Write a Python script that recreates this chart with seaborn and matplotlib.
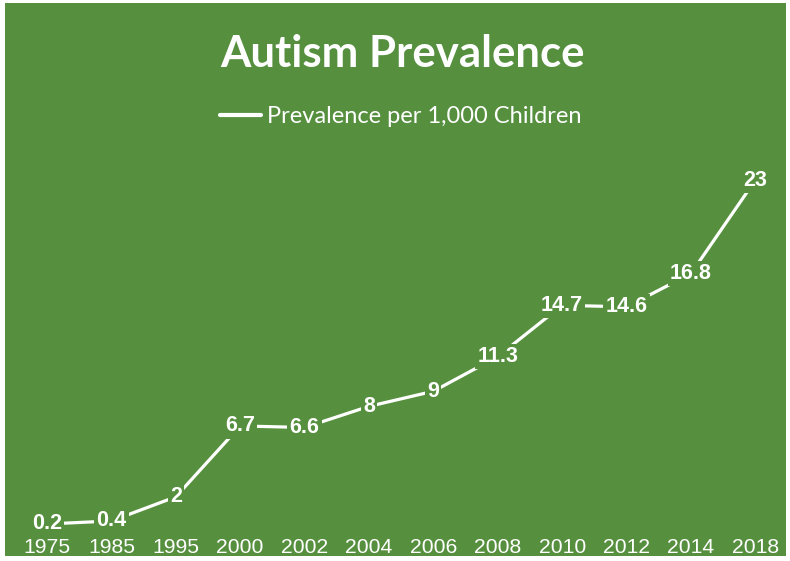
import matplotlib
matplotlib.use("Agg")
import matplotlib.pyplot as plt
import seaborn as sns
import pandas as pd

years = ["1975", "1985", "1995", "2000", "2002", "2004", "2006", "2008", "2010", "2012", "2014", "2018"]
prevalence = [0.2, 0.4, 2, 6.7, 6.6, 8, 9, 11.3, 14.7, 14.6, 16.8, 23]
labels = ["0.2", "0.4", "2", "6.7", "6.6", "8", "9", "11.3", "14.7", "14.6", "16.8", "23"]
series_name = "Prevalence per 1,000 Children"
title = "Autism Prevalence"

GREEN = "#56903F"

sns.set_theme(style="white")
plt.rcParams["font.family"] = ["Liberation Sans", "DejaVu Sans"]

df = pd.DataFrame({"Year": years, "Value": prevalence})

fig = plt.figure(figsize=(7.9, 5.61), dpi=100, facecolor="white")
# green chart area
bg = plt.Rectangle((5 / 790, 1 - 556 / 561), 781 / 790, 553 / 561,
                   transform=fig.transFigure, facecolor=GREEN,
                   edgecolor="none", zorder=-10)
fig.patches.append(bg)
ax = fig.add_axes([14.8 / 790, 34 / 561, 772.7 / 790, 377 / 561])
ax.set_facecolor("none")
ax.set_zorder(1)

sns.lineplot(data=df, x="Year", y="Value", ax=ax, color="white", linewidth=2.3,
             label=series_name, sort=False, zorder=2)

for i, (v, t) in enumerate(zip(prevalence, labels)):
    ax.text(i, v, t, ha="center", va="center", color="white", fontsize=15.5,
            fontweight="bold", zorder=3,
            bbox=dict(boxstyle="square,pad=0.1", facecolor=GREEN, edgecolor="none"))

ax.set_xlim(-0.5, len(years) - 0.5)
ax.set_ylim(0, 25)
ax.set_yticks([])
ax.set_xlabel("")
ax.set_ylabel("")
ax.tick_params(axis="x", length=0, pad=8, labelsize=15.2, labelcolor="white")
for s in ax.spines.values():
    s.set_visible(False)

fig.text(402 / 790, 1 - 54 / 561, title, ha="center", va="center", color="white",
         fontsize=31.5, fontweight="bold", family=["Lato", "DejaVu Sans"], zorder=5)

leg = ax.legend(loc="center", bbox_to_anchor=(401 / 790, 1 - 117 / 561),
                bbox_transform=fig.transFigure, frameon=False,
                handlelength=1.75, handletextpad=0.25,
                prop={"family": ["Lato", "DejaVu Sans"], "size": 17})
for txt in leg.get_texts():
    txt.set_color("white")
for ln in leg.get_lines():
    ln.set_linewidth(3)

fig.savefig("out.png", dpi=100, facecolor="white")
